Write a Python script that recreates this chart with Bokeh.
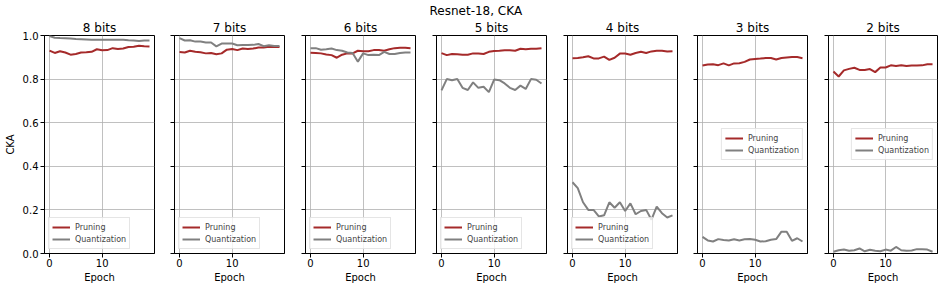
from bokeh.plotting import figure
from bokeh.layouts import row
from bokeh.models import Range1d, FixedTicker, Title, CustomJSTickFormatter, PrintfTickFormatter
from bokeh.embed import file_html
from bokeh.resources import INLINE

epochs = list(range(20))
bits_titles = ["8 bits", "7 bits", "6 bits", "5 bits", "4 bits", "3 bits", "2 bits"]
suptitle = "Resnet-18, CKA"
x_ticks = [0, 10]
y_ticks = [0.0, 0.2, 0.4, 0.6, 0.8, 1.0]

pruning_8 = [0.931, 0.920, 0.928, 0.922, 0.912, 0.915, 0.922, 0.923, 0.925, 0.937, 0.932, 0.933, 0.942, 0.938, 0.940, 0.947, 0.948, 0.953, 0.951, 0.950]
quant_8 = [0.998, 0.990, 0.988, 0.987, 0.986, 0.984, 0.983, 0.982, 0.981, 0.981, 0.981, 0.981, 0.980, 0.980, 0.980, 0.978, 0.977, 0.975, 0.977, 0.977]
pruning_7 = [0.924, 0.922, 0.930, 0.925, 0.923, 0.918, 0.920, 0.914, 0.918, 0.935, 0.938, 0.933, 0.940, 0.938, 0.940, 0.945, 0.945, 0.948, 0.947, 0.947]
quant_7 = [0.988, 0.977, 0.978, 0.972, 0.972, 0.968, 0.968, 0.950, 0.963, 0.963, 0.963, 0.955, 0.956, 0.956, 0.957, 0.961, 0.951, 0.955, 0.952, 0.952]
pruning_6 = [0.921, 0.920, 0.918, 0.913, 0.910, 0.898, 0.912, 0.918, 0.918, 0.930, 0.928, 0.928, 0.933, 0.933, 0.930, 0.937, 0.942, 0.944, 0.944, 0.942]
quant_6 = [0.942, 0.942, 0.935, 0.937, 0.940, 0.933, 0.930, 0.922, 0.920, 0.880, 0.918, 0.910, 0.912, 0.910, 0.925, 0.915, 0.915, 0.920, 0.922, 0.922]
pruning_5 = [0.919, 0.910, 0.915, 0.914, 0.912, 0.912, 0.918, 0.917, 0.915, 0.925, 0.929, 0.930, 0.932, 0.932, 0.930, 0.939, 0.937, 0.939, 0.939, 0.942]
quant_5 = [0.748, 0.800, 0.795, 0.800, 0.760, 0.750, 0.785, 0.760, 0.765, 0.740, 0.798, 0.795, 0.780, 0.760, 0.750, 0.770, 0.755, 0.800, 0.797, 0.780]
pruning_4 = [0.896, 0.897, 0.900, 0.905, 0.895, 0.895, 0.903, 0.888, 0.898, 0.917, 0.917, 0.912, 0.920, 0.925, 0.920, 0.927, 0.930, 0.930, 0.927, 0.928]
quant_4 = [0.327, 0.300, 0.235, 0.200, 0.200, 0.170, 0.175, 0.235, 0.210, 0.235, 0.195, 0.230, 0.180, 0.195, 0.200, 0.155, 0.215, 0.185, 0.165, 0.175]
pruning_3 = [0.862, 0.867, 0.868, 0.864, 0.872, 0.863, 0.872, 0.873, 0.879, 0.890, 0.892, 0.894, 0.897, 0.897, 0.890, 0.897, 0.899, 0.901, 0.901, 0.896]
quant_3 = [0.076, 0.060, 0.055, 0.066, 0.062, 0.060, 0.065, 0.060, 0.065, 0.066, 0.063, 0.055, 0.056, 0.063, 0.066, 0.100, 0.100, 0.058, 0.070, 0.055]
pruning_2 = [0.835, 0.812, 0.840, 0.847, 0.852, 0.842, 0.842, 0.846, 0.832, 0.853, 0.853, 0.863, 0.860, 0.864, 0.860, 0.862, 0.862, 0.863, 0.868, 0.868]
quant_2 = [0.008, 0.015, 0.018, 0.013, 0.015, 0.023, 0.010, 0.017, 0.013, 0.010, 0.018, 0.013, 0.030, 0.015, 0.013, 0.014, 0.020, 0.019, 0.018, 0.008]

pruning_all = [pruning_8, pruning_7, pruning_6, pruning_5, pruning_4, pruning_3, pruning_2]
quant_all = [quant_8, quant_7, quant_6, quant_5, quant_4, quant_3, quant_2]
legend_locs = ["bottom_left"] * 5 + ["center_right"] * 2

FONT = "DejaVu Sans"
RED = "#a52a2a"
GRAY = "#808080"

# (left border, frame width, right border)
borders = [(44, 110, 10), (10, 110, 10), (11, 110, 10), (11, 110, 10), (11, 110, 10), (10, 110, 10), (11, 109, 6)]
TOP, FRAME_H, BOTTOM = 35, 218, 37


def style_title(t):
    t.text_font = FONT
    t.text_font_size = "12px"
    t.text_font_style = "normal"
    t.text_color = "#000000"


figs = []
for i, title in enumerate(bits_titles):
    lb, fw, rb = borders[i]
    p = figure(width=lb + fw + rb, height=TOP + FRAME_H + BOTTOM, output_backend="svg",
               toolbar_location=None, title=(suptitle if i == 3 else title),
               x_range=Range1d(-0.95, 19.95), y_range=Range1d(0, 1),
               min_border_left=lb, min_border_right=rb, min_border_top=TOP, min_border_bottom=BOTTOM)
    style_title(p.title)
    if i == 3:
        # figure-level suptitle sits above the panel title
        p.title.align = "left"
        p.title.offset = -7
        p.title.standoff = 0
        sub = Title(text=title, align="center", standoff=2)
        style_title(sub)
        p.add_layout(sub, "above")
    else:
        p.title.align = "center"
        p.title.standoff = 2
    p.outline_line_color = "#000000"
    p.outline_line_width = 1
    p.outline_line_alpha = 1
    p.background_fill_color = "white"
    p.border_fill_color = "white"

    p.line(epochs, pruning_all[i], line_color=RED, line_width=2, legend_label="Pruning")
    p.line(epochs, quant_all[i], line_color=GRAY, line_width=2, legend_label="Quantization")

    for ax in (p.xaxis[0], p.yaxis[0]):
        ax.axis_line_color = "#000000"
        ax.major_tick_line_color = "#000000"
        ax.major_tick_out = 4
        ax.major_tick_in = 0
        ax.minor_tick_out = 0
        ax.minor_tick_in = 0
        ax.major_label_text_font = FONT
        ax.major_label_text_font_size = "10px"
        ax.major_label_text_color = "#000000"
        ax.axis_label_text_font = FONT
        ax.axis_label_text_font_size = "10px"
        ax.axis_label_text_font_style = "normal"
        ax.axis_label_text_color = "#000000"
    p.xaxis.ticker = FixedTicker(ticks=x_ticks)
    p.yaxis.ticker = FixedTicker(ticks=y_ticks)
    p.xaxis.axis_label = "Epoch"
    p.xaxis.major_label_standoff = 1
    p.xaxis.axis_label_standoff = 2
    if i == 0:
        p.yaxis.axis_label = "CKA"
        p.yaxis.formatter = PrintfTickFormatter(format="%.1f")
        p.yaxis.major_label_standoff = 2
        p.yaxis.axis_label_standoff = 4
    else:
        p.yaxis.formatter = CustomJSTickFormatter(code="return ''")
        p.yaxis.major_label_standoff = 0

    p.xgrid.ticker = FixedTicker(ticks=x_ticks)
    p.ygrid.ticker = FixedTicker(ticks=y_ticks)
    p.grid.grid_line_color = "#b0b0b0"
    p.grid.grid_line_width = 0.8

    lg = p.legend[0]
    lg.location = legend_locs[i]
    lg.margin = 4
    lg.padding = 3
    lg.spacing = 0
    lg.label_text_font = FONT
    lg.label_text_font_size = "8px"
    lg.label_height = 12
    lg.glyph_height = 12
    lg.glyph_width = 18
    lg.label_standoff = 5
    lg.border_line_color = "#cccccc"
    lg.background_fill_alpha = 0.8

    figs.append(p)

layout = row(*figs, spacing=0)
open("out.html", "w").write(file_html(layout, INLINE))
